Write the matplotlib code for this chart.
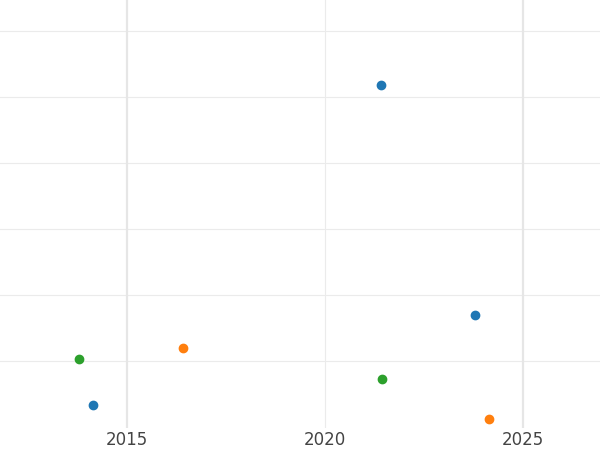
import matplotlib.pyplot as plt

blue_x = [2021.41, 2023.79, 2014.14]
blue_y = [4.18, 0.70, -0.67]
orange_x = [2016.41, 2024.14]
orange_y = [0.20, -0.88]
green_x = [2013.79, 2021.44]
green_y = [0.03, -0.27]

fig = plt.figure(figsize=[6, 4.5], dpi=100)
ax = fig.add_axes([0, 0.049, 1, 0.951])

ax.set_xlim(2011.79, 2026.94)
ax.set_ylim(-1.015, 5.47)

for y in range(6):
    ax.axhline(y, color='#ebebeb', lw=0.8, zorder=0)
ax.axvline(2015, color='#e6e6e6', lw=1.6, zorder=0)
ax.axvline(2020, color='#ebebeb', lw=0.8, zorder=0)
ax.axvline(2025, color='#e6e6e6', lw=1.6, zorder=0)

ax.scatter(blue_x, blue_y, s=36, color='#1f77b4', zorder=3)
ax.scatter(orange_x, orange_y, s=36, color='#ff7f0e', zorder=3)
ax.scatter(green_x, green_y, s=36, color='#2ca02c', zorder=3)

ax.set_xticks([2015, 2020, 2025])
ax.set_yticks([])
ax.tick_params(axis='x', length=0, labelsize=12, labelcolor='#444444', pad=2)
for s in ax.spines.values():
    s.set_visible(False)

plt.savefig('out.png', dpi=100)
